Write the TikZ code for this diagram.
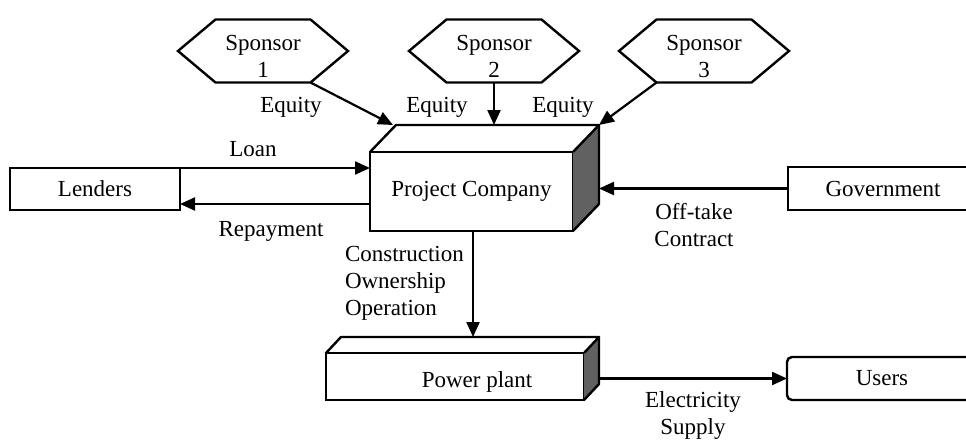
\documentclass[tikz,border=0pt]{standalone}
\usepackage{fontspec}
\setmainfont{Liberation Serif}
\usetikzlibrary{arrows.meta,calc}
\definecolor{facegray}{gray}{0.38}
\newcommand\hexdraw[1]{\draw[ln,line join=miter] (#1.west) -- ($(#1.north west)+(37.5,0)$) -- ($(#1.north east)+(-37.5,0)$) -- (#1.east) -- ($(#1.south east)+(-37.5,0)$) -- ($(#1.south west)+(37.5,0)$) -- cycle;}
\newcommand\cubedraw[3]{%
  \fill[facegray] (#1.north east) -- ++(#2,-#3) -- ($(#1.south east)+(#2,-#3)$) -- (#1.south east) -- cycle;
  \draw[ln,line join=round] (#1.north west) -- ++(#2,-#3) -- ($(#1.north east)+(#2,-#3)$) -- (#1.north east);
  \draw[ln,line join=round] ($(#1.north east)+(#2,-#3)$) -- ($(#1.south east)+(#2,-#3)$) -- (#1.south east);
}
\begin{document}
\begin{tikzpicture}[x=1pt,y=-1pt,
  every node/.style={font=\fontsize{23}{27}\selectfont, inner sep=0pt, outer sep=0pt},
  ln/.style={line width=2.4pt},
  arr/.style={line width=2.2pt, -{Triangle[length=15pt,width=13pt]}},
  box/.style={draw, line width=2.4pt, rectangle},
  lbl/.style={align=center},
  hexbox/.style={minimum width=170pt, minimum height=63pt},
]
\useasboundingbox (0,0) rectangle (966,439);
\clip (0,0) rectangle (966,439);

% main boxes
\node[box, minimum width=170pt, minimum height=42pt] (lenders) at (95,189) {Lenders};
\node[box, minimum width=203pt, minimum height=79pt, fill=white] (pc) at (471.5,191.5) {Project Company};
\cubedraw{pc}{26}{27}
\node[box, minimum width=190pt, minimum height=43pt] (gov) at (883,188.5) {Government};
\node[box, minimum width=258pt, minimum height=47pt] (pp) at (455,376.5) {};
\cubedraw{pp}{15}{16}
\node (pptext) at (477,382) {Power plant};
\node[box, rounded corners=5pt, minimum width=190pt, minimum height=43pt] (users) at (882,378.5) {Users};

% sponsors
\node[hexbox] (sp1) at (263,51) {};
\hexdraw{sp1}
\node[lbl] (sp1t) at (263,56) {Sponsor\\1};
\node[hexbox] (sp2) at (494,51) {};
\hexdraw{sp2}
\node[lbl] (sp2t) at (494,56) {Sponsor\\2};
\node[hexbox] (sp3) at (704,51) {};
\hexdraw{sp3}
\node[lbl] (sp3t) at (704,56) {Sponsor\\3};

% helper coordinates
\coordinate (pcBL) at ($(pc.north west)+(23,-27)$);
\coordinate (pcTR) at ($(pc.north east)+(26,-27)$);
\coordinate (pcR) at ($(pc.east)+(26,0)$);
\coordinate (rp) at ($(pc.west)+(0,12.5)$);
\coordinate (ppTop) at ($(pp.north)+(0,-16)$);
\coordinate (ppR) at ($(pp.east)+(15,0)$);

% connectors
\draw[arr] ($(sp1.south east)+(-37.5,0)$) -- (pcBL);
\draw[arr] (sp2.south) -- (sp2.south |- pcBL);
\draw[arr] ($(sp3.south west)+(37.5,0)$) -- (pcTR);
\draw[arr] (lenders.north east) -- (lenders.north east -| pc.west);
\draw[arr] (rp) -- (rp -| lenders.east);
\draw[arr] (gov.west) -- (gov.west -| pcR);
\draw[arr] ($(pc.south)+(1.5,0)$) -- ($(pc.south |- ppTop)+(1.5,0)$);
\draw[arr] (users.west -| ppR) -- (users.west);

% labels
\node (eq1) at (291,107) {Equity};
\node (eq2) at (437,107) {Equity};
\node (eq3) at (563,107) {Equity};
\node (loan) at (253,149) {Loan};
\node (repay) at (271,231.5) {Repayment};
\node[lbl] (offtake) at (694,225) {Off-take\\Contract};
\node[align=left, anchor=west] (coo) at (345,283) {Construction\\Ownership\\Operation};
\node[lbl] (elec) at (693,415) {Electricity\\Supply};
\end{tikzpicture}
\end{document}
